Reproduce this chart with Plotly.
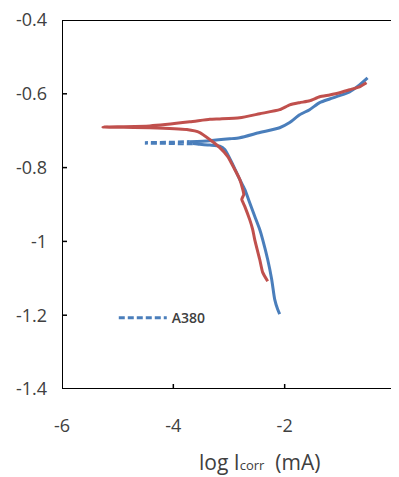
import plotly.graph_objects as go

# A380 (blue) cathodic branch, from most negative potential up to Ecorr
blue_cat_x = [-2.090, -2.126, -2.179, -2.233, -2.305, -2.395, -2.448, -2.538, -2.628, -2.717,
              -2.807, -2.951, -3.076, -3.166, -3.345, -3.525, -3.650]
blue_cat_y = [-1.197, -1.184, -1.157, -1.103, -1.049, -0.995, -0.968, -0.932, -0.895, -0.859,
              -0.832, -0.786, -0.751, -0.742, -0.739, -0.737, -0.735]
# A380 sparse region near Ecorr (appears dashed)
blue_ecorr_x = [-3.650, -4.000, -4.511, -4.000, -3.704]
blue_ecorr_y = [-0.735, -0.734, -0.733, -0.732, -0.730]
# A380 anodic branch
blue_an_x = [-3.704, -3.345, -2.987, -2.807, -2.448, -2.090, -1.910, -1.731, -1.552, -1.372,
             -1.193, -1.013, -0.834, -0.655, -0.511]
blue_an_y = [-0.730, -0.727, -0.722, -0.719, -0.705, -0.692, -0.678, -0.657, -0.643, -0.624,
             -0.614, -0.605, -0.595, -0.576, -0.557]

# second sample (red): cathodic branch then anodic branch
red_x = [-2.305, -2.395, -2.448, -2.538, -2.574, -2.628, -2.717, -2.771, -2.735, -2.753,
         -2.807, -2.897, -3.022, -3.166, -3.345, -3.525, -3.758, -4.422, -5.265,
         -4.422, -3.704, -3.345, -3.166, -2.807, -2.448, -2.090, -1.910, -1.731, -1.552,
         -1.372, -1.193, -1.013, -0.834, -0.655, -0.529]
red_y = [-1.108, -1.084, -1.049, -0.995, -0.968, -0.941, -0.905, -0.886, -0.873, -0.859,
         -0.832, -0.805, -0.770, -0.746, -0.724, -0.705, -0.697, -0.692, -0.690,
         -0.687, -0.676, -0.669, -0.668, -0.665, -0.654, -0.643, -0.630, -0.624, -0.619,
         -0.608, -0.603, -0.597, -0.589, -0.581, -0.570]

x_range = [-6, 0]
y_range = [-1.4, -0.4]
x_ticks = [-6, -4, -2, 0]
x_labels = ["-6", "-4", "-2", "0"]
y_ticks = [-1.4, -1.2, -1.0, -0.8, -0.6, -0.4]
y_labels = ["-1.4", "-1.2", "-1", "-0.8", "-0.6", "-0.4"]

BLUE = "#4A7EBB"
RED = "#C0504D"
TXT = "#404040"

# figure is 8px smaller than the window because of the page's body margin
W, H = 391, 469
M = dict(l=54, r=3, t=12, b=88)
plot_w = W - M["l"] - M["r"]
plot_h = H - M["t"] - M["b"]
TICK_PX = 5
tick_dx = TICK_PX * (x_range[1] - x_range[0]) / plot_w
tick_dy = TICK_PX * (y_range[1] - y_range[0]) / plot_h

fig = go.Figure()
fig.add_trace(go.Scatter(x=blue_cat_x, y=blue_cat_y, mode="lines",
                         line=dict(color=BLUE, width=3, shape="spline", smoothing=0.6),
                         showlegend=False))
fig.add_trace(go.Scatter(x=blue_ecorr_x, y=blue_ecorr_y, mode="lines",
                         line=dict(color=BLUE, width=3.5, dash="6px,3px"),
                         showlegend=False))
fig.add_trace(go.Scatter(x=blue_an_x, y=blue_an_y, mode="lines",
                         line=dict(color=BLUE, width=3, shape="spline", smoothing=0.6),
                         showlegend=False))
fig.add_trace(go.Scatter(x=red_x, y=red_y, mode="lines",
                         line=dict(color=RED, width=3, shape="spline", smoothing=0.5),
                         showlegend=False))
fig.add_trace(go.Scatter(x=[None], y=[None], mode="lines", name="A380",
                         line=dict(color=BLUE, width=3, dash="6px,3px")))

# inside tick marks built from the tick lists
tx, ty = [], []
for v in x_ticks[1:-1]:
    tx += [v, v, None]
    ty += [y_range[0], y_range[0] + tick_dy, None]
for v in y_ticks[1:-1]:
    tx += [x_range[0], x_range[0] + tick_dx, None]
    ty += [v, v, None]
fig.add_trace(go.Scatter(x=tx, y=ty, mode="lines", line=dict(color="black", width=1.5),
                         showlegend=False, hoverinfo="skip"))

# plot frame drawn from the axis ranges
fig.add_trace(go.Scatter(
    x=[x_range[0], x_range[1], x_range[1], x_range[0], x_range[0]],
    y=[y_range[0], y_range[0], y_range[1], y_range[1], y_range[0]],
    mode="lines", line=dict(color="black", width=2), cliponaxis=False,
    showlegend=False, hoverinfo="skip"))

fig.update_layout(
    width=W, height=H,
    margin=M,
    paper_bgcolor="white", plot_bgcolor="white",
    font=dict(family="Open Sans, Liberation Sans, sans-serif", color=TXT),
    legend=dict(x=0.155, y=0.192, xanchor="left", yanchor="middle", itemwidth=48,
                bgcolor="rgba(0,0,0,0)", font=dict(size=14, color=TXT, weight=600)),
    xaxis=dict(range=x_range, tickvals=x_ticks, ticktext=x_labels, automargin=False,
               showgrid=False, zeroline=False, showline=False, ticks="",
               ticklabeloverflow="allow",
               tickfont=dict(size=18, color=TXT), ticklabelstandoff=24),
    yaxis=dict(range=y_range, tickvals=y_ticks, ticktext=y_labels, automargin=False,
               showgrid=False, zeroline=False, showline=False, ticks="",
               ticklabeloverflow="allow",
               tickfont=dict(size=18, color=TXT), ticklabelstandoff=14),
    annotations=[dict(text="log I<span style='font-size:13px'>corr</span>  (mA)",
                      xref="paper", yref="paper", x=0.59, y=-0.198,
                      xanchor="center", yanchor="middle", showarrow=False,
                      font=dict(size=21, color=TXT))],
)

fig.write_html("out.html")
